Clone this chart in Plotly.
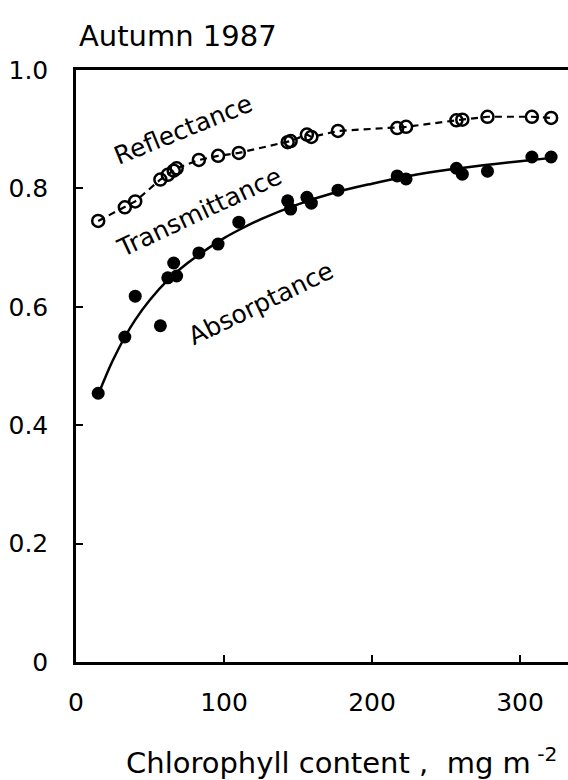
import plotly.graph_objects as go

# Chlorophyll content (mg m^-2) of each sample
chl = [15, 33, 40, 57, 62, 66, 68, 83, 96, 110, 143, 145, 156, 159, 177,
       217, 223, 257, 261, 278, 308, 321]
# Absorptance (filled circles)
absorptance = [0.454, 0.549, 0.618, 0.568, 0.649, 0.674, 0.652, 0.691, 0.706,
               0.743, 0.779, 0.765, 0.785, 0.775, 0.797, 0.821, 0.816, 0.834,
               0.824, 0.829, 0.853, 0.853]
# Absorptance + transmittance (open circles, dashed)
abs_trans = [0.745, 0.768, 0.778, 0.815, 0.823, 0.830, 0.834, 0.848, 0.855,
             0.860, 0.878, 0.880, 0.891, 0.887, 0.897, 0.902, 0.904, 0.915,
             0.916, 0.921, 0.921, 0.919]
# Fitted absorptance curve
fit_x = [15, 20, 25, 33, 40, 50, 62, 75, 90, 100, 111, 125, 150, 175, 200,
         225, 250, 275, 300, 323]
fit_y = [0.452, 0.482, 0.510, 0.549, 0.578, 0.612, 0.645, 0.673, 0.700, 0.716,
         0.731, 0.748, 0.773, 0.793, 0.808, 0.821, 0.831, 0.839, 0.846, 0.852]

x_ticks = [0, 100, 200, 300]
y_ticks = [0, 0.2, 0.4, 0.6, 0.8, 1.0]
y_tick_text = ["0", "0.2", "0.4", "0.6", "0.8", "1.0"]

FONT = "DejaVu Sans"

fig = go.Figure()
fig.add_trace(go.Scatter(
    x=chl, y=abs_trans, mode="lines+markers",
    line=dict(color="black", width=2.2, dash="7px,5px"),
    marker=dict(symbol="circle-open", size=12, color="black", line=dict(width=2.5)),
    showlegend=False, cliponaxis=False))
fig.add_trace(go.Scatter(
    x=fit_x, y=fit_y, mode="lines", line=dict(color="black", width=2.5, shape="spline"),
    showlegend=False))
fig.add_trace(go.Scatter(
    x=chl, y=absorptance, mode="markers",
    marker=dict(symbol="circle", size=13, color="black"),
    showlegend=False, cliponaxis=False))

fig.update_layout(
    width=568, height=780,
    margin=dict(l=76, r=0, t=70, b=118),
    paper_bgcolor="white", plot_bgcolor="white",
    font=dict(family=FONT, color="black"),
    xaxis=dict(range=[0, 332.4], tickvals=x_ticks, ticks="inside", ticklen=7,
               tickwidth=2, tickcolor="black", showline=True, linecolor="black",
               linewidth=2.5, mirror=True, showgrid=False, zeroline=False,
               tickfont=dict(size=25, family=FONT), ticklabelstandoff=16),
    yaxis=dict(range=[0, 1.0], tickvals=y_ticks, ticktext=y_tick_text,
               ticks="inside", ticklen=7, tickwidth=2, tickcolor="black",
               showline=True, linecolor="black", linewidth=2.5, mirror=False,
               showgrid=False, zeroline=False,
               tickfont=dict(size=25, family=FONT), ticklabelstandoff=20),
    annotations=[
        dict(text="Autumn 1987", xref="paper", yref="paper", x=0.002, y=1.058,
             xanchor="left", yanchor="middle", showarrow=False,
             font=dict(size=29, family=FONT)),
        dict(text="Chlorophyll content ,  mg m<sup> -2</sup>", xref="paper", yref="paper",
             x=0.54, y=-0.168, xanchor="center", yanchor="middle", showarrow=False,
             font=dict(size=29, family=FONT)),
        dict(text="Reflectance", x=72.6, y=0.899, textangle=-22, showarrow=False,
             font=dict(size=25, family=FONT)),
        dict(text="Transmittance", x=82.8, y=0.760, textangle=-25, showarrow=False,
             font=dict(size=25, family=FONT)),
        dict(text="Absorptance", x=124.7, y=0.606, textangle=-26, showarrow=False,
             font=dict(size=25, family=FONT)),
    ],
)

fig.write_html("out.html")
